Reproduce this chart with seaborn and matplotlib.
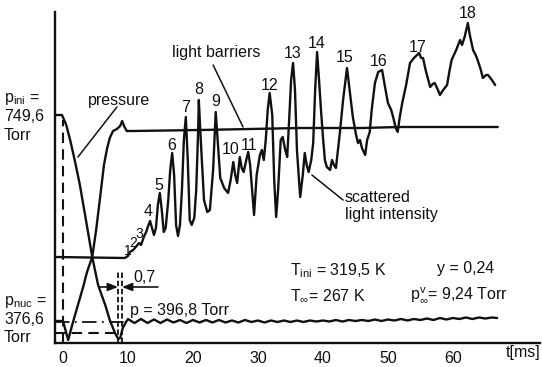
import numpy as np
import pandas as pd
import matplotlib
matplotlib.use("Agg")
import matplotlib.pyplot as plt
import seaborn as sns

# ---------------- data (t in ms, signal in arbitrary units) ----------------
scat_t = [-1.2, 9.5, 10.0, 10.3, 10.8, 11.2, 11.7, 12.0, 12.5, 12.8, 13.1, 13.4, 13.7, 14.0, 14.3,
          14.6, 14.9, 15.2, 15.5, 15.8, 16.2, 16.5, 16.8, 17.1, 17.4, 17.7, 18.0, 18.3, 18.6, 18.9,
          19.2, 19.5, 19.8, 20.2, 20.5, 20.8, 20.9, 21.2, 21.7, 22.2, 22.6, 23.1, 23.5, 23.8, 24.2,
          24.8, 25.4, 25.8, 26.2, 26.5, 26.8, 27.1, 27.2, 27.5, 27.8, 28.2, 28.5, 28.8, 29.4, 29.8,
          30.3, 30.6, 30.9, 31.2, 31.5, 31.8, 32.2, 32.5, 32.8, 33.1, 33.5, 33.8, 34.2, 34.5, 34.8,
          35.1, 35.4, 35.7, 36.0, 36.5, 36.9, 37.2, 37.5, 37.8, 38.2, 38.5, 38.8, 39.1, 39.4, 39.7,
          40.0, 40.3, 40.6, 41.1, 41.4, 41.7, 42.0, 42.3, 42.6, 43.1, 43.7, 44.2, 44.6, 45.1, 45.4,
          45.7, 46.0, 46.5, 46.8, 47.2, 47.5, 48.0, 48.5, 49.1, 49.5, 50.0, 50.5, 50.8, 51.2, 51.5,
          51.8, 52.2, 52.8, 53.4, 54.0, 54.8, 55.1, 55.4, 55.8, 56.5, 56.9, 57.2, 57.7, 58.0, 58.5,
          59.1, 59.5, 59.8, 60.5, 61.1, 61.4, 61.8, 62.3, 62.6, 63.1, 63.5, 63.8, 64.3, 64.6, 65.1,
          65.4, 66.0, 66.5]
scat_y = [86, 85, 87, 91, 93, 96, 100, 98, 107, 111, 117, 122, 115, 108, 115,
          138, 150, 133, 111, 115, 143, 173, 190, 168, 118, 107, 118, 153, 203, 226,
          183, 123, 118, 125, 153, 213, 243, 203, 143, 131, 133, 173, 231, 203, 165,
          155, 150, 163, 181, 168, 160, 180, 186, 175, 171, 183, 191, 178, 128, 168,
          188, 193, 183, 203, 233, 250, 228, 163, 126, 153, 203, 206, 193, 186, 223,
          263, 280, 253, 193, 146, 168, 190, 178, 171, 183, 200, 253, 291, 263, 233,
          206, 183, 176, 173, 183, 178, 175, 193, 210, 243, 275, 248, 226, 208, 200,
          203, 195, 188, 203, 211, 233, 260, 271, 273, 258, 240, 233, 226, 215, 211,
          225, 240, 258, 280, 285, 290, 285, 285, 273, 256, 259, 260, 253, 248, 253,
          258, 273, 283, 293, 303, 298, 306, 320, 308, 293, 288, 283, 273, 265, 268,
          268, 263, 258]

pres_t = [-1.2, -0.15, 0.5, 1.1, 1.8, 2.6, 3.4, 4.5, 5.4, 6.5, 7.2, 8.0, 8.5, 8.8, 9.2, 9.7,
          10, 11, 12, 13, 14, 15, 16, 17, 18, 19, 20, 21, 22, 23, 24, 25, 26, 27, 28, 29, 30,
          31, 32, 33, 34, 35, 36, 37, 38, 39, 40, 41, 42, 43, 44, 45, 46, 47, 48, 49, 50, 51,
          52, 53, 54, 55, 56, 57, 58, 59, 60, 61, 62, 63, 64, 65, 66, 66.8]
pres_y = [228, 228, 218, 203, 183, 158, 128, 86, 58, 38, 23, 10, 4, 5, 15, 21,
          24, 20, 24, 20, 23.5, 20, 23.5, 20.5, 23, 20, 23, 20.5, 23, 20.5, 23, 20.5, 22.5,
          20.5, 23, 21, 22.5, 20.5, 22.5, 21, 22.5, 21, 22.5, 21, 22.5, 21.5, 22.5, 21.5, 23,
          21.5, 23, 22, 23, 22, 23.5, 22, 23.5, 22.5, 24, 22.5, 24, 23, 24.5, 23, 25, 23.5,
          25, 24, 25.5, 24, 25.5, 24.5, 25.5, 25]

lb_t = [-1.2, 0.0, 0.8, 1.5, 2.3, 3.1, 3.7, 4.5, 5.1, 5.7, 6.3, 6.8, 7.2, 7.7, 8.3, 8.8, 9.1,
        9.4, 9.8, 10.8, 21.1, 36.5, 46.0, 51.8, 66.9]
lb_y = [22, 22, 3, 20, 38, 56, 71, 86, 113, 145, 178, 195, 205, 212, 214, 217, 222,
        217, 212, 212, 213, 215, 215, 216, 216]

peak_ids = [str(i) for i in range(1, 19)]
peak_t = [9.9, 10.85, 11.8, 13.1, 14.8, 16.8, 18.8, 20.9, 23.5, 25.8, 28.6, 31.8, 35.4, 39.1,
          43.4, 48.5, 54.5, 62.3]
peak_y = [92, 100, 109, 131, 158, 197, 236, 254, 241, 193, 197, 258, 290, 300, 286, 281, 296, 330]
peak_fs = [10, 10, 10] + [11.5] * 15

x_ticks = [0, 10, 20, 30, 40, 50, 60]

p_ini_level = 228
p_nuc_level = 21
p_min_level = 10
t_start, t_nuc1, t_nuc2 = 0.0, 8.46, 9.08

# ---------------- style ----------------
sns.set_theme(style="white")
plt.rcParams["font.family"] = ["Liberation Sans", "DejaVu Sans"]
plt.rcParams["mathtext.fontset"] = "custom"
plt.rcParams["mathtext.rm"] = "Liberation Sans"
plt.rcParams["mathtext.it"] = "Liberation Sans:italic"
FS = 11.5
K = "#111111"
LW = 1.7

fig = plt.figure(figsize=(5.42, 3.67), dpi=100)
ax = fig.add_axes([55 / 542, 1 - 343 / 367, (540 - 55) / 542, (343 - 12) / 367])

df_s = pd.DataFrame({"t": scat_t, "y": scat_y})
df_p = pd.DataFrame({"t": pres_t, "y": pres_y})
df_l = pd.DataFrame({"t": lb_t, "y": lb_y})
for d in (df_s, df_p, df_l):
    sns.lineplot(data=d, x="t", y="y", sort=False, estimator=None, color=K, lw=LW, ax=ax)

# reference lines
ax.plot([t_start, t_start], [0, 223], color=K, lw=1.5, ls=(0, (5, 3)))
for tv in (t_nuc1, t_nuc2):
    ax.plot([tv, tv], [0, 73], color=K, lw=1.3, ls=(0, (3, 1.5)))
ax.plot([-1.2, t_nuc1], [p_min_level, p_min_level], color=K, lw=1.5, ls=(0, (5, 3)))
ax.plot([-1.2, 9.7], [p_nuc_level, p_nuc_level], color=K, lw=1.3, ls=(0, (8, 3, 1, 3)))

# 0,7 arrows
ap = dict(arrowstyle="-|>,head_length=0.5,head_width=0.2", color=K, lw=1.2, shrinkA=0, shrinkB=0)
ax.annotate("", xy=(t_nuc1, 56), xytext=(5.7, 56), arrowprops=ap)
ax.annotate("", xy=(t_nuc2, 56), xytext=(14.6, 56), arrowprops=ap)
ax.text(12.6, 66, "0,7", fontsize=FS, ha="center", va="center", color=K)

# leader lines
ax.plot([8.3, 2.3], [236, 186], color=K, lw=1.1)
ax.plot([23.1, 27.7], [278, 216], color=K, lw=1.1)
ax.plot([43.1, 38.3], [143, 168], color=K, lw=1.1)

# texts
ax.text(3.8, 243, "pressure", fontsize=FS, va="center", color=K)
ax.text(16.8, 290, "light barriers", fontsize=FS, va="center", color=K)
ax.text(43.4, 146, "scattered", fontsize=FS, va="center", color=K)
ax.text(43.4, 129, "light intensity", fontsize=FS, va="center", color=K)
ax.text(34.9, 72, r"$\mathregular{T_{ini}}$ = 319,5 K", fontsize=FS, va="center", color=K)
ax.text(34.9, 47, r"$\mathregular{T_{\infty}}$= 267 K", fontsize=FS, va="center", color=K)
ax.text(57.5, 75, "y = 0,24", fontsize=FS, va="center", color=K)
ax.text(53.4, 48, r"$\mathregular{p^{v}_{\infty}}$= 9,24 Torr", fontsize=FS, va="center", color=K)
ax.text(10.3, 33, "p = 396,8 Torr", fontsize=FS, va="center", color=K)

for lab, tx, ty, fs in zip(peak_ids, peak_t, peak_y, peak_fs):
    ax.text(tx, ty, lab, fontsize=fs, ha="center", va="center", color=K)

# axes
ax.set_xlim(-1.23, 73.4)
ax.set_ylim(0, 331)
ax.set_xticks(x_ticks)
ax.set_xticklabels([str(v) for v in x_ticks], fontsize=FS)
ax.set_yticks([])
ax.set_xlabel("")
ax.set_ylabel("")
ax.tick_params(axis="x", direction="inout", length=7, width=1.2, color=K, pad=2, labelcolor=K)
for s in ("top", "right"):
    ax.spines[s].set_visible(False)
for s in ("left", "bottom"):
    ax.spines[s].set_color(K)
    ax.spines[s].set_linewidth(1.7)
ax.set_facecolor("white")

# left labels
def ftxt(px, py, s, **kw):
    fig.text(px / 542, 1 - py / 367, s, fontsize=FS, va="center", color=K, **kw)

ftxt(4, 99, r"$\mathregular{p_{ini}}$ =")
ftxt(4, 117, "749,6")
ftxt(4, 135, "Torr")
ftxt(4, 302, r"$\mathregular{p_{nuc}}$ =")
ftxt(4, 320, "376,6")
ftxt(4, 338, "Torr")
ftxt(541, 353, "t[ms]", ha="right")

fig.savefig("out.png", dpi=100, facecolor="white")
